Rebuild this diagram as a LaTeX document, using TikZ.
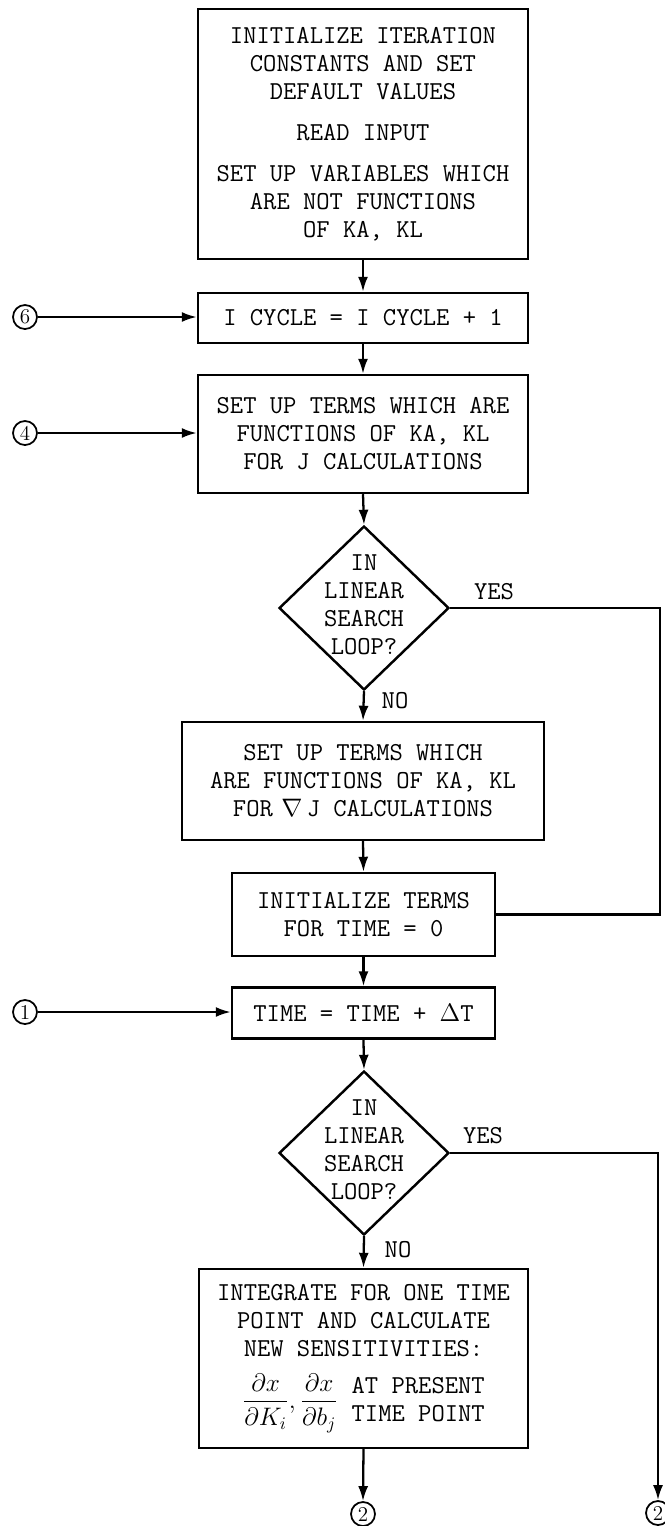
\documentclass[tikz,border=0pt]{standalone}
\usetikzlibrary{arrows.meta,positioning,shapes.geometric}
\newcommand{\flowfont}{\ttfamily\fontsize{14.7}{15.9}\selectfont}
\begin{document}
\begin{tikzpicture}[x=0.02cm, y=-0.02cm,
  procbox/.style={draw, line width=1.4pt, align=center, inner sep=0pt, font=\flowfont},
  decision/.style={diamond, draw, line width=1.4pt, inner sep=0pt, minimum width=3.4cm, minimum height=3.28cm},
  conn/.style={circle, draw, line width=1pt, inner sep=0pt, minimum size=0.48cm, font=\rmfamily\fontsize{12}{12}\selectfont},
  lbl/.style={font=\flowfont},
  flow/.style={line width=1.3pt, -{Latex[length=3mm,width=2mm]}},
  plain/.style={line width=1.3pt}]
  \useasboundingbox (0,0) rectangle (665,1526);
  % Main column
  \node[procbox, minimum width=6.6cm, minimum height=5cm] (init) at (363,134)
    {INITIALIZE ITERATION\\ CONSTANTS AND SET\\ DEFAULT VALUES\\[0.26cm]
     READ INPUT\\[0.26cm]
     SET UP VARIABLES WHICH\\ ARE NOT FUNCTIONS\\ OF KA, KL};
  \node[procbox, minimum width=6.6cm, minimum height=1cm] (icycle) at (363,318)
    {I CYCLE = I CYCLE + 1};
  \node[procbox, minimum width=6.6cm, minimum height=2.36cm] (setj) at (363,434)
    {SET UP TERMS WHICH ARE\\ FUNCTIONS OF KA, KL\\ FOR J CALCULATIONS};
  \node[decision] (dec1) at (364,608) {};
  \node[lbl, align=center] (dec1txt) at (364,605) {IN\\ LINEAR\\ SEARCH\\ LOOP?};
  \node[procbox, minimum width=7.24cm, minimum height=2.36cm] (setgrad) at (363,781)
    {SET UP TERMS WHICH\\ ARE FUNCTIONS OF KA, KL\\ FOR\,\,$\nabla\,$J CALCULATIONS};
  \node[procbox, minimum width=5.26cm, minimum height=1.66cm] (initzero) at (363.5,914.5)
    {INITIALIZE TERMS\\ FOR TIME = 0};
  \node[procbox, minimum width=5.26cm, minimum height=1.02cm] (timestep) at (363.5,1013)
    {TIME = TIME + $\Delta$T};
  \node[decision] (dec2) at (364,1153) {};
  \node[lbl, align=center] (dec2txt) at (364,1150) {IN\\ LINEAR\\ SEARCH\\ LOOP?};
  \node[procbox, minimum width=6.58cm, minimum height=3.58cm] (integ) at (363.5,1358.5)
    {INTEGRATE FOR ONE TIME\\ POINT AND CALCULATE\\ NEW SENSITIVITIES:\\[0.3cm]
     $\displaystyle\frac{\partial x}{\partial K_i},\frac{\partial x}{\partial b_j}$
     \begin{tabular}{@{}l@{}}AT PRESENT\\ TIME POINT\end{tabular}};
  % Off-page connectors
  \node[conn] (c6) at (25,317) {6};
  \node[conn] (c4) at (25,433) {4};
  \node[conn] (c1) at (25,1012) {1};
  \node[conn] (c2a) at (363,1514) {2};
  \node[conn] (c2b) at (658,1513) {2};
  % Branch labels
  \node[lbl] (yes1) at (494,592) {YES};
  \node[lbl] (no1) at (395,701) {NO};
  \node[lbl] (yes2) at (483,1136) {YES};
  \node[lbl] (no2) at (398,1250) {NO};
  \coordinate (r1) at (660,608);
  \coordinate (r2) at (658,1153);
  % Connectors
  \draw[flow] (init.south) -- (icycle.north);
  \draw[flow] (icycle.south) -- (setj.north);
  \draw[flow] (setj.south) -- (dec1.north);
  \draw[flow] (dec1.south) -- (setgrad.north);
  \draw[flow] (setgrad.south) -- (initzero.north);
  \draw[flow] (initzero.south) -- (timestep.north);
  \draw[flow] (timestep.south) -- (dec2.north);
  \draw[flow] (dec2.south) -- (integ.north);
  \draw[flow] (integ.south) -- (c2a.north);
  \draw[flow] (c6.east) -- (c6 -| icycle.west);
  \draw[flow] (c4.east) -- (c4 -| setj.west);
  \draw[flow] (c1.east) -- (c1 -| timestep.west);
  \draw[plain] (dec1.east) -- (r1) |- (initzero.east);
  \draw[flow] (dec2.east) -- (r2) -- (c2b.north);
\end{tikzpicture}
\end{document}
